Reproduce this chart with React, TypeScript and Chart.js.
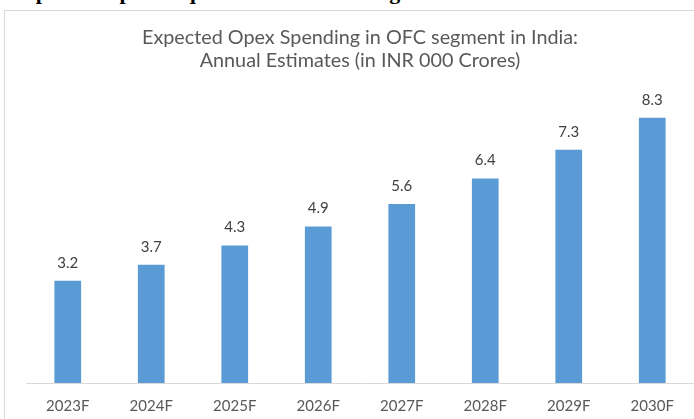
import React, { useEffect, useRef } from "react";
import { Chart, registerables } from "chart.js";

Chart.register(...registerables);

const categories = ["2023F", "2024F", "2025F", "2026F", "2027F", "2028F", "2029F", "2030F"];
const values = [3.2, 3.7, 4.3, 4.9, 5.6, 6.4, 7.3, 8.3];
const titleLines = ["Expected Opex Spending in OFC segment in India:", "Annual Estimates (in INR 000 Crores)"];
const headingText = "Expected Opex Required for Maintaining OFC Network";

const FONT = "Lato, 'Open Sans', sans-serif";

const labelPlugin = {
  id: "valueLabels",
  afterDatasetsDraw(chart: any) {
    const ctx = chart.ctx;
    const meta = chart.getDatasetMeta(0);
    ctx.save();
    ctx.font = `15px ${FONT}`;
    ctx.fillStyle = "#404040";
    ctx.textAlign = "center";
    ctx.textBaseline = "middle";
    meta.data.forEach((bar: any, i: number) => {
      ctx.fillText(values[i].toFixed(1), bar.x, bar.y - 18);
    });
    ctx.restore();
  },
};

export default function App() {
  const ref = useRef<HTMLCanvasElement>(null);
  useEffect(() => {
    document.body.style.margin = "0";
    const chart = new Chart(ref.current!, {
      type: "bar",
      data: {
        labels: categories,
        datasets: [
          {
            data: values,
            backgroundColor: "#5B9BD5",
            borderWidth: 0,
            barPercentage: 0.32,
            categoryPercentage: 1,
          },
        ],
      },
      options: {
        animation: false,
        responsive: false,
        layout: { padding: { left: 26, right: 0, top: 0, bottom: 0 } },
        plugins: {
          legend: { display: false },
          tooltip: { enabled: false },
          title: {
            display: true,
            text: titleLines,
            color: "#595959",
            font: { family: FONT, size: 19.8, weight: "normal", lineHeight: 1.12 },
            padding: { top: 27, bottom: 24 },
          },
        },
        scales: {
          x: {
            grid: { display: false, drawTicks: false },
            border: { display: true, color: "#d9d9d9", width: 1 },
            ticks: { color: "#595959", font: { family: FONT, size: 15 }, padding: 14 },
          },
          y: {
            display: false,
            min: 0,
            max: 9,
          },
        },
      },
      plugins: [labelPlugin],
    });
    return () => chart.destroy();
  }, []);

  return (
    <div style={{ position: "relative", width: 694, height: 419, overflow: "hidden", background: "#fff" }}>
      <div
        style={{
          position: "absolute",
          left: 10,
          top: -21,
          whiteSpace: "nowrap",
          fontFamily: "'Liberation Serif', 'Times New Roman', serif",
          fontWeight: "bold",
          fontSize: 22,
          color: "#000",
        }}
      >
        {headingText}
      </div>
      <div
        style={{
          position: "absolute",
          left: 4,
          top: 10,
          width: 700,
          height: 420,
          border: "1px solid #d9d9d9",
          background: "#fff",
        }}
      />
      <canvas ref={ref} width={694} height={429} style={{ position: "absolute", left: 0, top: 0 }} />
    </div>
  );
}
